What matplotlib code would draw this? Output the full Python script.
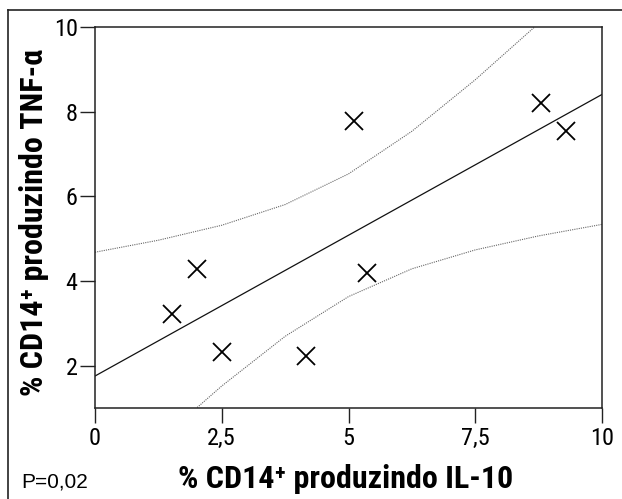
import numpy as np
import matplotlib
matplotlib.use("Agg")
import matplotlib.pyplot as plt
from matplotlib.lines import Line2D

NARROW = ["Liberation Sans Narrow", "Arial Narrow", "Roboto Condensed",
          "Archivo Narrow", "Liberation Sans", "DejaVu Sans"]
NARROW_BOLD = ["Liberation Sans Narrow", "Arial Narrow", "Roboto Condensed",
               "Encode Sans Semi Condensed", "Liberation Sans", "DejaVu Sans"]
REGULAR = ["Liberation Sans", "DejaVu Sans"]
plt.rcParams["font.family"] = REGULAR

# IL-10 vs TNF-alpha producing CD14+ cells (%)
il10 = np.array([1.52, 2.01, 2.50, 4.16, 5.10, 5.36, 8.80, 9.29])
tnf = np.array([3.22, 4.28, 2.33, 2.24, 7.79, 4.19, 8.21, 7.55])

x_ticks = [0, 2.5, 5, 7.5, 10]
x_tick_labels = ["0", "2,5", "5", "7,5", "10"]
y_ticks = [2, 4, 6, 8, 10]
y_tick_labels = ["2", "4", "6", "8", "10"]
x_title = "% CD14⁺ produzindo IL-10"
y_title = "% CD14⁺ produzindo TNF-α"
p_label = "P=0,02"

# Linear regression with 95% confidence band of the mean
slope, intercept = np.polyfit(il10, tnf, 1)
n = len(il10)
resid = tnf - (slope * il10 + intercept)
s = np.sqrt(np.sum(resid ** 2) / (n - 2))
sxx = np.sum((il10 - il10.mean()) ** 2)
t_crit = 2.447  # t(0.975, df=6)
grid = np.linspace(0, 10, 9)
fit = slope * grid + intercept
half = t_crit * s * np.sqrt(1.0 / n + (grid - il10.mean()) ** 2 / sxx)

W, H = 622, 499
fig = plt.figure(figsize=(W / 100, H / 100), dpi=100)
ax = fig.add_axes([95 / W, 1 - 408 / H, (602 - 95) / W, (408 - 27) / H])

ax.plot(grid, fit, color="#111111", lw=0.9)
ax.plot(grid, fit + half, color="#666666", lw=0.8, ls=(0, (1, 1)))
ax.plot(grid, fit - half, color="#666666", lw=0.8, ls=(0, (1, 1)))
ax.plot(il10, tnf, ls="none", marker="x", ms=13, mew=1.3, color="black")

ax.set_xlim(0, 10)
ax.set_ylim(1, 10)
ax.set_xticks(x_ticks)
ax.set_xticklabels(x_tick_labels, family=NARROW, fontsize=17.5)
ax.set_yticks(y_ticks)
ax.set_yticklabels(y_tick_labels, family=NARROW, fontsize=17.5)
ax.tick_params(direction="out", length=11, width=1.0, color="#222222")
ax.tick_params(axis="x", pad=3)
ax.tick_params(axis="y", pad=1.5)
for sp in ax.spines.values():
    sp.set_linewidth(1.1)
    sp.set_color("#222222")

fig.text(346 / W, 1 - 488 / H, x_title, ha="center", va="baseline",
         fontsize=23, fontweight="bold", family=NARROW_BOLD)
fig.text(34 / W, 1 - 223 / H, y_title, ha="center", va="center", rotation=90,
         fontsize=23, fontweight="bold", family=NARROW_BOLD)
fig.text(21 / W, 1 - 487 / H, p_label, ha="left", va="baseline", fontsize=15)

# Outer frame (left and top edges)
fig.add_artist(Line2D([8 / W, 8 / W], [0, 1 - 10 / H], color="#222222", lw=1.2,
                      transform=fig.transFigure))
fig.add_artist(Line2D([8 / W, 1], [1 - 10 / H, 1 - 10 / H], color="#222222", lw=1.2,
                      transform=fig.transFigure))

fig.savefig("out.png", dpi=100)
